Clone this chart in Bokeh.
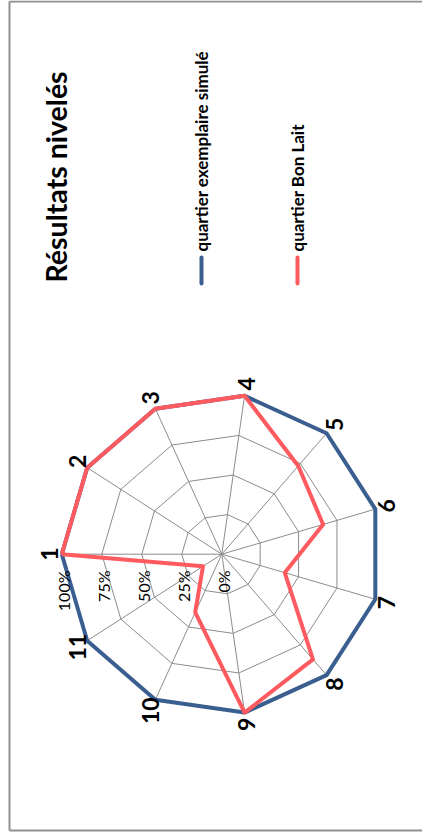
import math
from bokeh.plotting import figure
from bokeh.models import Range1d
from bokeh.core.properties import value
from bokeh.embed import file_html
from bokeh.resources import INLINE

# ---------------- data ----------------
categories = ["1", "2", "3", "4", "5", "6", "7", "8", "9", "10", "11"]
exemplaire = [1.00, 1.00, 1.00, 1.00, 1.00, 1.00, 1.00, 1.00, 1.00, 1.00, 1.00]
bon_lait = [1.00, 1.00, 1.00, 1.00, 0.73, 0.66, 0.41, 0.87, 1.00, 0.40, 0.14]
series_names = ["quartier exemplaire simulé", "quartier Bon Lait"]
series_colors = ["#3A5E8F", "#FF5A5F"]
tick_values = [0.0, 0.25, 0.50, 0.75, 1.00]
tick_labels = ["0%", "25%", "50%", "75%", "100%"]
title_text = "Résultats nivelés"

# ---------------- layout ----------------
W, H = 422, 832
FONT = "Lato"
GRID = "#8C8C8C"


def sy(y):  # screen y (page px) -> data y
    return 840 - y


CX, CY = 229.3, sy(561.7)
R = 160.0
n = len(categories)
angles = [math.pi - i * 2 * math.pi / n for i in range(n)]

p = figure(width=W, height=H, x_range=Range1d(8, 430), y_range=Range1d(0, 832),
           output_backend="svg", toolbar_location=None,
           x_axis_location=None, y_axis_location=None, min_border=0)
p.grid.visible = False
p.outline_line_color = None
p.background_fill_color = "white"
p.border_fill_color = "white"

# frame border (left, top, bottom)
p.multi_line(xs=[[17, 17], [17, 430], [17, 430]],
             ys=[[sy(9), sy(838)], [sy(9), sy(9)], [sy(838), sy(838)]],
             line_color="#8F8F8F", line_width=2)

# spokes
sx = [[CX, CX + R * math.cos(a)] for a in angles]
sy_ = [[CY, CY + R * math.sin(a)] for a in angles]
p.multi_line(xs=sx, ys=sy_, line_color=GRID, line_width=1)

# rings
rx, ry = [], []
for lv in tick_values[1:]:
    xs = [CX + R * lv * math.cos(a) for a in angles]
    ys = [CY + R * lv * math.sin(a) for a in angles]
    rx.append(xs + xs[:1])
    ry.append(ys + ys[:1])
p.multi_line(xs=rx, ys=ry, line_color=GRID, line_width=1)

# series
for vals, col in zip([exemplaire, bon_lait], series_colors):
    xs = [CX + R * v * math.cos(a) for v, a in zip(vals, angles)]
    ys = [CY + R * v * math.sin(a) for v, a in zip(vals, angles)]
    p.line(xs + xs[:1], ys + ys[:1], line_color=col, line_width=4, line_join="round")

# category labels
LR = 172
p.text(x=[CX + LR * math.cos(a) for a in angles],
       y=[CY + LR * math.sin(a) for a in angles],
       text=categories, angle=math.pi / 2,
       text_font=value(FONT), text_font_style="bold", text_font_size="23px",
       text_align="center", text_baseline="middle", text_color="black")

# tick labels along axis 1
p.text(x=[CX + R * v * math.cos(angles[0]) + 2 for v in tick_values],
       y=[sy(578)] * len(tick_values),
       text=tick_labels, angle=math.pi / 2,
       text_font=value(FONT), text_font_size="16px",
       text_align="right", text_baseline="middle", text_color="black")

# title
p.text(x=[63], y=[sy(290)], text=[title_text], angle=math.pi / 2,
       text_font=value(FONT), text_font_style="bold", text_font_size="28.5px",
       text_align="left", text_baseline="middle", text_color="black")

# legend
leg_x = [209, 305]
for lx, name, col in zip(leg_x, series_names, series_colors):
    p.line([lx, lx], [sy(265), sy(291)], line_color=col, line_width=4, line_cap="round")
    p.text(x=[lx], y=[sy(259)], text=[name], angle=math.pi / 2,
           text_font=value(FONT), text_font_style="bold", text_font_size="17px",
           text_align="left", text_baseline="middle", text_color="black")

open("out.html", "w").write(file_html(p, INLINE))
